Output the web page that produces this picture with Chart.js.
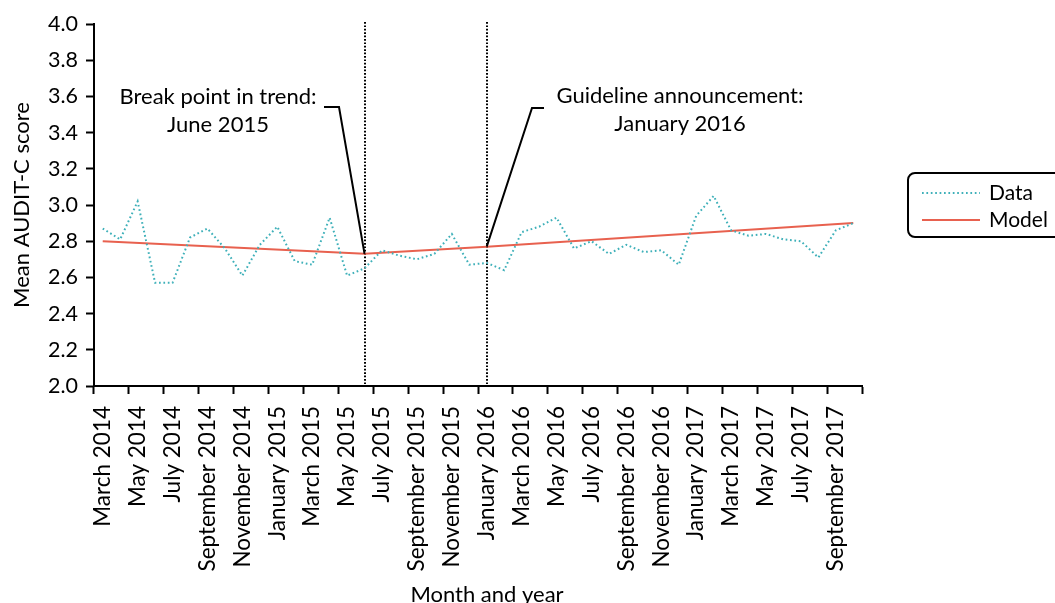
<!DOCTYPE html>
<html>
<head>
<meta charset="utf-8">
<script src="https://cdn.jsdelivr.net/npm/chart.js@4.4.0/dist/chart.umd.min.js"></script>
<style>
  html, body { margin: 0; padding: 0; background: #ffffff; }
  #wrap { width: 1055px; height: 603px; position: relative; }
  canvas { display: block; }
</style>
</head>
<body>
<div id="wrap"><canvas id="chart" width="1055" height="603"></canvas></div>
<script>
// Survey months (one category per month)
const months = [
  'March 2014', 'April 2014', 'May 2014', 'June 2014', 'July 2014', 'August 2014',
  'September 2014', 'October 2014', 'November 2014', 'December 2014',
  'January 2015', 'February 2015', 'March 2015', 'April 2015', 'May 2015', 'June 2015',
  'July 2015', 'August 2015', 'September 2015', 'October 2015', 'November 2015', 'December 2015',
  'January 2016', 'February 2016', 'March 2016', 'April 2016', 'May 2016', 'June 2016',
  'July 2016', 'August 2016', 'September 2016', 'October 2016', 'November 2016', 'December 2016',
  'January 2017', 'February 2017', 'March 2017', 'April 2017', 'May 2017', 'June 2017',
  'July 2017', 'August 2017', 'September 2017', 'October 2017'
];

// Observed monthly mean AUDIT-C score
const observedScores = [
  2.87, 2.81, 3.02, 2.57, 2.57, 2.82, 2.87, 2.76, 2.61, 2.78,
  2.88, 2.69, 2.67, 2.93, 2.61, 2.65, 2.75, 2.72, 2.70, 2.73,
  2.84, 2.67, 2.68, 2.64, 2.85, 2.88, 2.93, 2.76, 2.80, 2.73,
  2.78, 2.74, 2.75, 2.67, 2.94, 3.05, 2.86, 2.83, 2.84, 2.81,
  2.80, 2.71, 2.86, 2.90
];

// Segmented regression model: value at each segment end
const modelMonths = ['March 2014', 'June 2015', 'January 2016', 'October 2017'];
const modelScores = [2.80, 2.73, 2.77, 2.90];

// Marked events
const eventMonths = ['June 2015', 'January 2016'];
const eventLabels = [
  ['Break point in trend:', 'June 2015'],
  ['Guideline announcement:', 'January 2016']
];

const seriesNames = ['Data', 'Model'];
const xTitle = 'Month and year';
const yTitle = 'Mean AUDIT-C score';

const DATA_COLOR = '#3eb0b9';
const MODEL_COLOR = '#e8614f';
const FONT = 'Lato, "Open Sans", sans-serif';

Chart.defaults.font.family = FONT;
Chart.defaults.color = '#000000';

const modelPoints = modelMonths.map((m, i) => ({ x: m, y: modelScores[i] }));

// Event markers, callouts, x-axis title and framed legend
const overlayPlugin = {
  id: 'overlay',
  beforeDatasetsDraw(chart) {
    const { ctx, chartArea, scales } = chart;
    ctx.save();
    ctx.strokeStyle = '#000000';
    ctx.lineWidth = 2;
    ctx.setLineDash([1.7, 1.7]);
    eventMonths.forEach(m => {
      const x = Math.round(scales.x.getPixelForValue(months.indexOf(m)));
      ctx.beginPath();
      ctx.moveTo(x, chartArea.top - 2);
      ctx.lineTo(x, chartArea.bottom);
      ctx.stroke();
    });
    ctx.restore();
  },
  afterDraw(chart) {
    const { ctx, scales } = chart;
    const xs = scales.x, ys = scales.y;
    ctx.save();

    // callout lines from the text to the model at each event
    const callouts = [
      { elbow: [[324, 107], [339, 107]], text: [218, 97] },
      { elbow: [[544, 108], [532, 108]], text: [680, 96] }
    ];
    ctx.strokeStyle = '#000000';
    ctx.lineWidth = 2;
    ctx.setLineDash([]);
    eventMonths.forEach((m, k) => {
      const idx = modelMonths.indexOf(m);
      const tx = xs.getPixelForValue(months.indexOf(m));
      const ty = ys.getPixelForValue(modelScores[idx]);
      const c = callouts[k];
      ctx.beginPath();
      ctx.moveTo(c.elbow[0][0], c.elbow[0][1]);
      ctx.lineTo(c.elbow[1][0], c.elbow[1][1]);
      ctx.lineTo(tx, ty);
      ctx.stroke();

      ctx.fillStyle = '#000000';
      ctx.font = '22px ' + FONT;
      ctx.textAlign = 'center';
      ctx.textBaseline = 'middle';
      eventLabels[k].forEach((line, j) => {
        ctx.fillText(line, c.text[0], c.text[1] + j * 27.5);
      });
    });

    // x-axis title
    ctx.fillStyle = '#000000';
    ctx.font = '22px ' + FONT;
    ctx.textAlign = 'center';
    ctx.textBaseline = 'alphabetic';
    ctx.fillText(xTitle, 487, 602);

    // legend frame
    const bx = 908, by = 173, bw = 170, bh = 64, r = 7;
    ctx.beginPath();
    ctx.moveTo(bx + r, by);
    ctx.lineTo(bx + bw - r, by);
    ctx.arcTo(bx + bw, by, bx + bw, by + r, r);
    ctx.lineTo(bx + bw, by + bh - r);
    ctx.arcTo(bx + bw, by + bh, bx + bw - r, by + bh, r);
    ctx.lineTo(bx + r, by + bh);
    ctx.arcTo(bx, by + bh, bx, by + bh - r, r);
    ctx.lineTo(bx, by + r);
    ctx.arcTo(bx, by, bx + r, by, r);
    ctx.closePath();
    ctx.strokeStyle = '#000000';
    ctx.lineWidth = 2;
    ctx.stroke();

    const rows = [193, 220];
    chart.data.datasets.forEach((ds, i) => {
      ctx.strokeStyle = ds.borderColor;
      ctx.lineWidth = ds.borderWidth;
      ctx.setLineDash(ds.borderDash || []);
      ctx.beginPath();
      ctx.moveTo(922, rows[i]);
      ctx.lineTo(980, rows[i]);
      ctx.stroke();
      ctx.setLineDash([]);
      ctx.fillStyle = '#000000';
      ctx.font = '21px ' + FONT;
      ctx.textAlign = 'left';
      ctx.textBaseline = 'middle';
      ctx.fillText(ds.label, 989, rows[i]);
    });
    ctx.restore();
  }
};

new Chart(document.getElementById('chart'), {
  type: 'line',
  data: {
    labels: months,
    datasets: [
      {
        label: seriesNames[0],
        data: observedScores,
        borderColor: DATA_COLOR,
        borderWidth: 2,
        borderDash: [1.7, 2.7],
        pointRadius: 0,
        tension: 0,
        fill: false
      },
      {
        label: seriesNames[1],
        data: modelPoints,
        borderColor: MODEL_COLOR,
        borderWidth: 2,
        pointRadius: 0,
        tension: 0,
        spanGaps: true,
        fill: false
      }
    ]
  },
  options: {
    responsive: false,
    animation: false,
    devicePixelRatio: 1,
    layout: { padding: { left: 0, right: 193, top: 24, bottom: 0 } },
    plugins: {
      legend: { display: false },
      tooltip: { enabled: false }
    },
    scales: {
      x: {
        type: 'category',
        offset: true,
        afterFit(scale) { scale.height = 217; },
        border: { display: true, color: '#000000', width: 2 },
        grid: {
          offset: true,
          drawOnChartArea: false,
          drawTicks: true,
          tickLength: 8,
          tickWidth: 2,
          tickColor: ctx => (ctx.index === undefined || ctx.index % 2 === 0) ? '#000000' : 'rgba(0,0,0,0)'
        },
        ticks: {
          autoSkip: false,
          minRotation: 90,
          maxRotation: 90,
          padding: 12,
          font: { size: 22.5 },
          color: '#000000',
          callback: (v, i) => (i % 2 === 0 ? months[i] : '')
        },
        title: { display: false }
      },
      y: {
        min: 2.0,
        max: 4.0,
        afterFit(scale) { scale.width = 94; },
        border: { display: true, color: '#000000', width: 2 },
        grid: {
          drawOnChartArea: false,
          drawTicks: true,
          tickLength: 8,
          tickWidth: 2,
          tickColor: '#000000'
        },
        ticks: {
          stepSize: 0.2,
          padding: 8,
          font: { size: 21.5 },
          color: '#000000',
          callback: v => Number(v).toFixed(1)
        },
        title: {
          display: true,
          text: yTitle,
          font: { size: 22 },
          color: '#000000',
          padding: { top: 9, bottom: 0 }
        }
      }
    }
  },
  plugins: [overlayPlugin]
});
</script>
</body>
</html>
